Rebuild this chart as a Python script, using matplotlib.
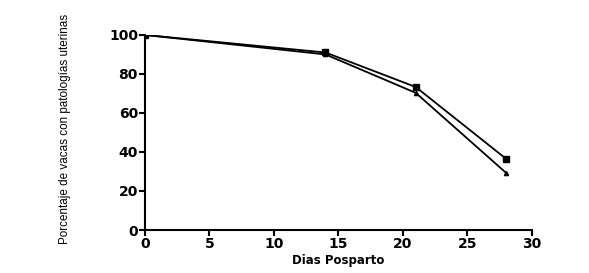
import matplotlib
matplotlib.use("Agg")
import matplotlib.pyplot as plt

dias = [0, 14, 21, 28]
serie_cuadrados = [100, 91, 73.3, 36.5]
serie_triangulos = [100, 90, 70.3, 29.3]
xticks = [0, 5, 10, 15, 20, 25, 30]
yticks = [0, 20, 40, 60, 80, 100]

plt.rcParams['font.family'] = ['Liberation Sans', 'DejaVu Sans']
fig = plt.figure(figsize=(5.89, 2.73), dpi=100)
ax = fig.add_axes([0.246, 0.1575, 0.657, 0.7145])
ax.plot(dias, serie_cuadrados, color='black', lw=1.3, marker='s', ms=4)
ax.plot(dias, serie_triangulos, color='black', lw=1.3, marker='^', ms=3)
ax.set_xlim(0, 30)
ax.set_ylim(0, 100)
ax.set_xticks(xticks)
ax.set_yticks(yticks)
for s in ['top', 'right']:
    ax.spines[s].set_visible(False)
for s in ['left', 'bottom']:
    ax.spines[s].set_linewidth(1.5)
ax.tick_params(width=1.5, length=4, labelsize=10, pad=1)
for lab in ax.get_xticklabels() + ax.get_yticklabels():
    lab.set_fontweight('bold')
    lab.set_family('DejaVu Sans')
ax.set_xlabel('Dias Posparto', fontsize=8.5, fontweight='bold', labelpad=2,
              family='DejaVu Sans')
ax.set_ylabel('Porcentaje de vacas con patologías uterinas', fontsize=8.4)
ax.yaxis.set_label_coords(-0.19, 0.52)
fig.savefig('out.png', dpi=100)
